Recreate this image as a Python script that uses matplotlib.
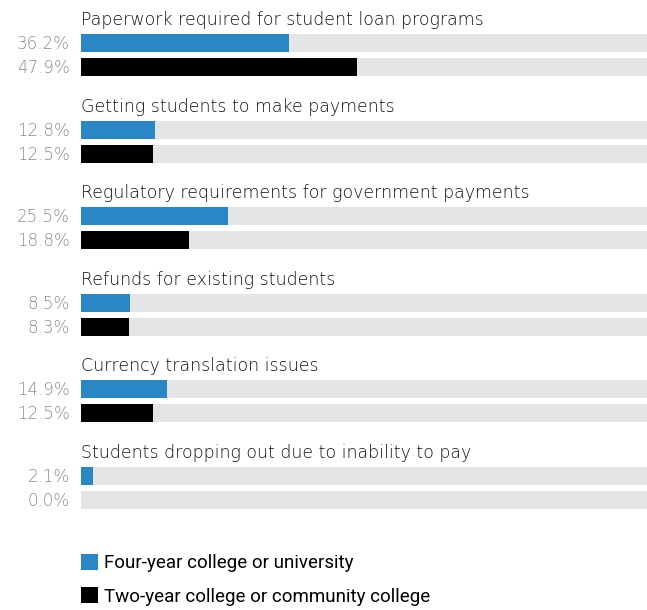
import matplotlib
matplotlib.use("Agg")
import matplotlib.pyplot as plt
from matplotlib.patches import Patch

categories = [
    "Paperwork required for student loan programs",
    "Getting students to make payments",
    "Regulatory requirements for government payments",
    "Refunds for existing students",
    "Currency translation issues",
    "Students dropping out due to inability to pay",
]
four_year = [36.2, 12.8, 25.5, 8.5, 14.9, 2.1]
two_year = [47.9, 12.5, 18.8, 8.3, 12.5, 0.0]
series_names = ["Four-year college or university", "Two-year college or community college"]

BLUE = "#2a87c6"
BLACK = "#000000"
TRACK = "#e4e5e7"
LABEL_GRAY = "#8c8c8c"
TITLE_FONT = ["DejaVu Sans"]
LEGEND_FONT = ["Roboto"]

W, H = 647, 610
fig = plt.figure(figsize=(W / 100, H / 100), dpi=100)
# axes spans the track area horizontally; y axis runs in pixels top-down
left = 81 / W
ax = fig.add_axes([left, 0, 1 - left, 1])
ax.set_xlim(0, 98.4)
ax.set_ylim(H, 0)
ax.axis("off")

pitch = 86.6
first_blue = 43
bar_h = 18
gap = 24

for i, (cat, a, b) in enumerate(zip(categories, four_year, two_year)):
    yb = first_blue + i * pitch
    yk = yb + gap
    ax.barh([yb, yk], [100, 100], height=bar_h, color=TRACK, left=0)
    ax.barh(yb, a, height=bar_h, color=BLUE)
    ax.barh(yk, b, height=bar_h, color=BLACK)
    ax.text(0, yb - 18, cat, fontsize=12.5, family=TITLE_FONT, fontweight="light",
            color="#111111", ha="left", va="baseline")
    for y, v in ((yb, a), (yk, b)):
        ax.text(-1.9, y + 6, f"{v:.1f}%", fontsize=12, family=TITLE_FONT, fontweight="light",
                color=LABEL_GRAY, ha="right", va="baseline")

handles = [Patch(facecolor=BLUE), Patch(facecolor=BLACK)]
ax.legend(handles, series_names, loc="upper left", bbox_to_anchor=(0, 1 - 554 / H),
          frameon=False, borderpad=0, borderaxespad=0, handlelength=0.9, handleheight=0.9,
          handletextpad=0.3, labelspacing=0.8,
          prop={"family": LEGEND_FONT, "size": 13.5})

fig.savefig("out.png", dpi=100, facecolor="white")
